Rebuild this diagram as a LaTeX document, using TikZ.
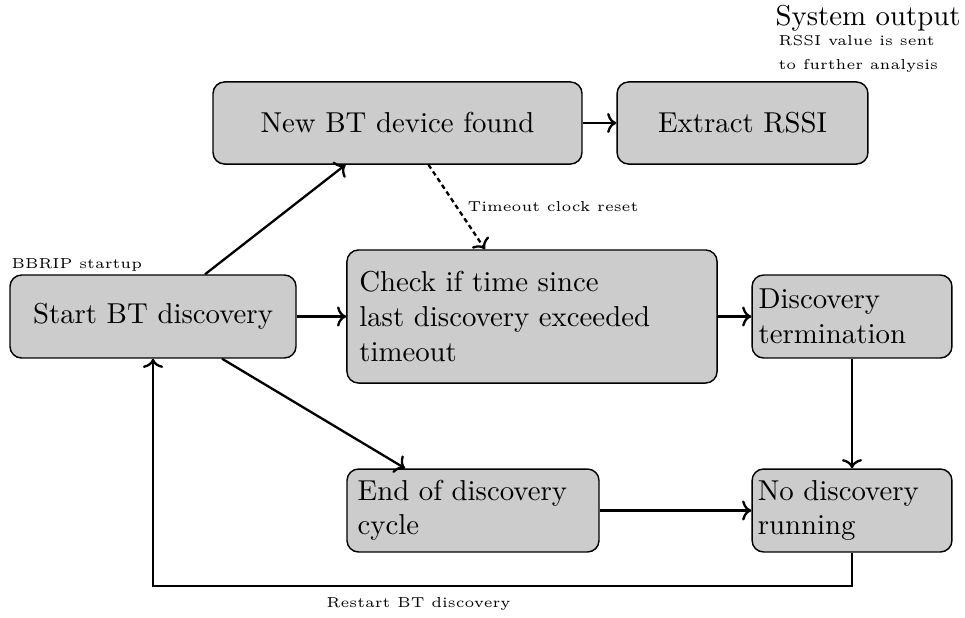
\documentclass[tikz,border=0pt]{standalone}
\usetikzlibrary{arrows.meta}
\tikzset{
  box/.style={draw, line width=0.5pt, fill=black!20, rounded corners=4pt},
  conn/.style={-{To[length=3.2pt, width=7pt]}, line width=0.8pt},
  lbl/.style={font=\tiny, inner sep=0pt},
}
\begin{document}
\begin{tikzpicture}[x=0.3472pt, y=-0.3472pt]
\useasboundingbox (0,0) rectangle (965,617);
% boxes
\node[box, minimum width=99.3pt, minimum height=28.8pt] (start) at (153,316.5) {Start BT discovery};
\node[box, minimum width=128.1pt, minimum height=28.5pt] (newbt) at (397.5,123) {New BT device found};
\node[box, minimum width=87.1pt, minimum height=28.5pt] (rssi) at (742.5,123) {Extract RSSI};
\node[box, minimum height=46.2pt, inner xsep=4.3pt, text width=119.9pt, align=left] (check) at (532,316.5) {Check if time since\\last discovery exceeded\\timeout};
\node[box, minimum height=28.8pt, inner xsep=2.3pt, text width=64.8pt, align=left] (term) at (852,316.5) {Discovery\\termination};
\node[box, minimum height=28.8pt, inner xsep=3.7pt, text width=80.1pt, align=left] (endc) at (473,510.5) {End of discovery\\cycle};
\node[box, minimum height=28.8pt, inner xsep=2pt, text width=65.4pt, align=left] (nodisc) at (852,510.5) {No discovery\\running};
% free labels
\node[lbl, anchor=base west] (startup) at (11,268) {BBRIP startup};
\node[anchor=base west, inner sep=0pt] (sysout) at (775,26) {System output};
\node[lbl, anchor=north west, align=left, font=\fontsize{5}{8.3}\selectfont] (sysdesc) at (778,35) {RSSI value is sent\\to further analysis};
% connectors
\draw[conn] ([shift={(52,0)}]start.north) -- ([shift={(-52,0)}]newbt.south);
\draw[conn] (newbt.east) -- (rssi.west);
\draw[conn, dash pattern=on 1.6pt off 1.2pt] ([shift={(31,0)}]newbt.south) -- node[midway, right, font=\tiny] {Timeout clock reset} ([shift={(-47,0)}]check.north);
\draw[conn] (start.east) -- (check.west);
\draw[conn] (check.east) -- (term.west);
\draw[conn] (term.south) -- (nodisc.north);
\draw[conn] ([shift={(69,0)}]start.south) -- ([shift={(-68,0)}]endc.north);
\draw[conn] (endc.east) -- (nodisc.west);
\draw[conn] (nodisc.south) -- ++(0,33) -| node[pos=0.31, lbl, below=3.8pt] {Restart BT discovery} (start.south);
\end{tikzpicture}
\end{document}
